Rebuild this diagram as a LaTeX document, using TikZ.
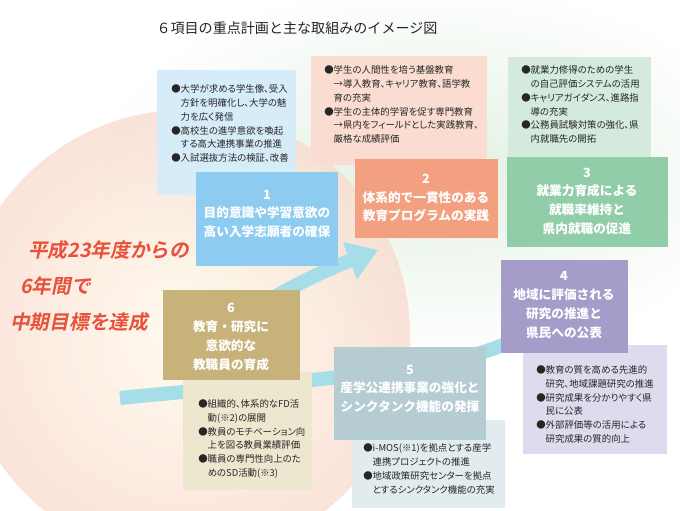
\documentclass[tikz,border=0pt]{standalone}
\usepackage{fontspec}
\setmainfont{Noto Sans CJK JP}
\newfontfamily\notefont{Noto Sans CJK JP}[RawFeature=+palt]
\newfontfamily\redfont{Noto Sans CJK JP Bold}[FakeSlant=0.2]
\definecolor{HeadBlue}  {RGB}{141,203,240}
\definecolor{NoteBlue}  {RGB}{214,236,248}
\definecolor{HeadSalmon}{RGB}{242,160,128}
\definecolor{NoteSalmon}{RGB}{250,221,208}
\definecolor{HeadGreen} {RGB}{146,205,169}
\definecolor{NoteGreen} {RGB}{212,234,221}
\definecolor{HeadPurple}{RGB}{165,156,201}
\definecolor{NotePurple}{RGB}{222,219,238}
\definecolor{HeadSlate} {RGB}{181,204,211}
\definecolor{NoteSlate} {RGB}{226,235,238}
\definecolor{HeadTan}   {RGB}{199,178,122}
\definecolor{NoteTan}   {RGB}{238,231,208}
\definecolor{GoalRed}   {RGB}{232,81,58}
\definecolor{SwooshCyan}{RGB}{165,222,232}
\definecolor{PeachIn}   {RGB}{255,250,234}
\definecolor{PeachOut}  {RGB}{250,218,205}
\definecolor{MistGreen} {RGB}{226,240,226}
\usetikzlibrary{arrows.meta}
\newcommand\subln{\phantom{●}}

\begin{document}
\begin{tikzpicture}[x=0.025cm,y=-0.025cm,
    headtext/.style={font=\fontsize{9}{13.3}\selectfont\bfseries,
                     text=white,align=center},
    notetext/.style={font=\fontsize{6.7}{9.9}\selectfont\notefont,
                     text=black!85,align=left,anchor=north west,
                     inner sep=0pt},
    goaltext/.style={font=\fontsize{14}{16}\selectfont\redfont,
                     text=GoalRed,anchor=west,inner sep=0pt},
    swoosh/.style={SwooshCyan,line width=3.5mm,
                   -{Triangle[length=7.5mm,width=9.5mm]}}]
  %% Page area, pixel units
  \clip (0,0) rectangle (680,511);
  \fill[white] (0,0) rectangle (680,511);
  %% Soft backdrop: greenish mist top, peach disc left
  \shade[inner color=MistGreen,outer color=white]
       (430,170) ellipse (340 and 190);
  \shade[inner color=PeachIn,outer color=PeachOut,opacity=0.75]
       (185,335) circle (225);
  %% Cyan swooshes running round the six items
  \draw[swoosh] (120,398) .. controls (300,380) and (470,372) .. (545,318);
  \draw[swoosh] (240,318) .. controls (280,292) and (320,272) .. (378,250);

  %% Title
  \node[font=\fontsize{10}{12}\selectfont,text=black!85] (title)
       at (297,28) {６項目の重点計画と主な取組みのイメージ図};

  %% Detail panels (drawn first, headers overlap them)
  \fill[NoteBlue]   (157,70)  rectangle (296,195);
  \fill[NoteSalmon] (311,56)  rectangle (487,165);
  \fill[NoteGreen]  (508,57)  rectangle (651,165);
  \fill[NotePurple] (523,345) rectangle (667,454);
  \fill[NoteSlate]  (352,420) rectangle (505,508);
  \fill[NoteTan]    (183,372) rectangle (312,490);

  \node[notetext] (note1) at (171,84)
       {●大学が求める学生像、受入\\
        \subln 方針を明確化し、大学の魅\\
        \subln 力を広く発信\\
        ●高校生の進学意欲を喚起\\
        \subln する高大連携事業の推進\\
        ●入試選抜方法の検証、改善};
  \node[notetext] (note2) at (324,65)
       {●学生の人間性を培う基盤教育\\
        \subln →導入教育、キャリア教育、語学教\\
        \subln 育の充実\\
        ●学生の主体的学習を促す専門教育\\
        \subln →県内をフィールドとした実践教育、\\
        \subln 厳格な成績評価};
  \node[notetext] (note3) at (521,65)
       {●就業力修得のための学生\\
        \subln の自己評価システムの活用\\
        ●キャリアガイダンス、進路指\\
        \subln 導の充実\\
        ●公務員試験対策の強化、県\\
        \subln 内就職先の開拓};
  \node[notetext] (note4) at (536,365)
       {●教育の質を高める先進的\\
        \subln 研究、地域課題研究の推進\\
        ●研究成果を分かりやすく県\\
        \subln 民に公表\\
        ●外部評価等の活用による\\
        \subln 研究成果の質的向上};
  \node[notetext] (note5) at (363,443)
       {●i-MOS(※1)を拠点とする産学\\
        \subln 連携プロジェクトの推進\\
        ●地域政策研究センターを拠点\\
        \subln とするシンクタンク機能の充実};
  \node[notetext] (note6) at (198,399)
       {●組織的、体系的なFD活\\
        \subln 動(※2)の展開\\
        ●教員のモチベーション向\\
        \subln 上を図る教員業績評価\\
        ●職員の専門性向上のた\\
        \subln めのSD活動(※3)};

  %% Header boxes
  \fill[HeadBlue]   (196,172) rectangle (338,266);
  \fill[HeadSalmon] (355,159) rectangle (498,238);
  \fill[HeadGreen]  (507,157) rectangle (668,247);
  \fill[HeadPurple] (501,260) rectangle (628,353);
  \fill[HeadSlate]  (334,347) rectangle (486,440);
  \fill[HeadTan]    (163,290) rectangle (300,380);

  \node[headtext] (head1) at (267,214)
       {1\\目的意識や学習意欲の\\高い入学志願者の確保};
  \node[headtext] (head2) at (426,198)
       {2\\体系的で一貫性のある\\教育プログラムの実践};
  \node[headtext] (head3) at (587,201)
       {3\\就業力育成による\\就職率維持と\\県内就職の促進};
  \node[headtext] (head4) at (564,305)
       {4\\地域に評価される\\研究の推進と\\県民への公表};
  \node[headtext] (head5) at (410,389)
       {5\\産学公連携事業の強化と\\シンクタンク機能の発揮};
  \node[headtext] (head6) at (231,337)
       {6\\教育・研究に\\意欲的な\\教職員の育成};

  %% Goal statement, left
  \node[goaltext] (goal1) at (28,250) {平成23年度からの};
  \node[goaltext] (goal2) at (20,286) {6年間で};
  \node[goaltext] (goal3) at (10,322) {中期目標を達成};
\end{tikzpicture}
\end{document}
